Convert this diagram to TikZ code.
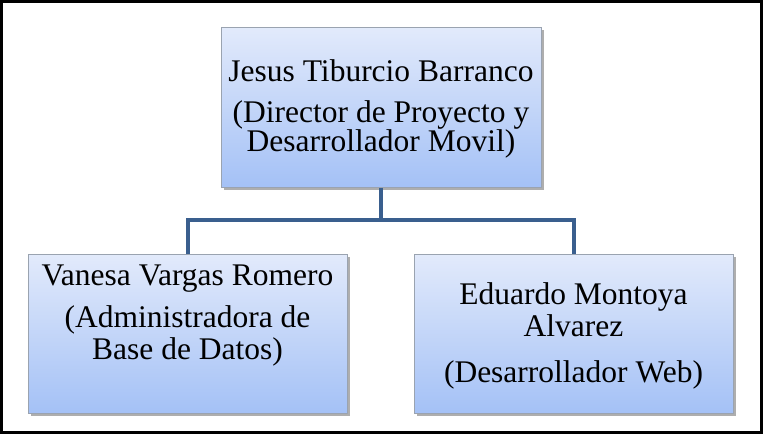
\documentclass[tikz,border=0pt]{standalone}
\usepackage{fontspec}
\setmainfont{Liberation Serif}
\usetikzlibrary{shadows}
\definecolor{boxtop}{HTML}{E2EAFB}
\definecolor{boxbot}{HTML}{A4C1F6}
\definecolor{boxline}{HTML}{9AA3B0}
\definecolor{linkc}{HTML}{3A5F8E}
\begin{document}
\begin{tikzpicture}[x=1pt,y=-1pt,
  orgbox/.style={draw=boxline, line width=0.6pt, top color=boxtop, bottom color=boxbot,
    drop shadow={shadow xshift=2.5pt, shadow yshift=-3pt, opacity=0.45, fill=black!70},
    minimum width=319pt, minimum height=159pt, inner sep=0pt, anchor=north west},
  txt/.style={anchor=base, inner sep=0pt, font=\fontsize{31.5}{36}\selectfont, text=black},
  link/.style={draw=linkc, line width=4pt}]
\useasboundingbox (0,0) rectangle (763,434);
\draw[line width=3pt, black] (1.5,1.5) rectangle (761.5,432.5);
% boxes
\node[orgbox, minimum width=320pt, minimum height=160pt] (top) at (221,27) {};
\node[orgbox] (left) at (28,254) {};
\node[orgbox] (right) at (414,254) {};
% connectors
\coordinate (bus) at (381,220);
\draw[link] (top.south) -- (top.south |- bus);
\draw[link] (left.north) |- (bus) -| (right.north);
% texts
\node[txt] (t1) at (381,81) {Jesus Tiburcio Barranco};
\node[txt] (t2) at (381,122) {(Director de Proyecto y};
\node[txt] (t3) at (381,151) {Desarrollador Movil)};
\node[txt] (l1) at (187.5,285) {Vanesa Vargas Romero};
\node[txt] (l2) at (187.5,327) {(Administradora de};
\node[txt] (l3) at (187.5,359) {Base de Datos)};
\node[txt] (r1) at (573.5,304) {Eduardo Montoya};
\node[txt] (r2) at (573.5,336) {Alvarez};
\node[txt] (r3) at (573.5,382) {(Desarrollador Web)};
\end{tikzpicture}
\end{document}
